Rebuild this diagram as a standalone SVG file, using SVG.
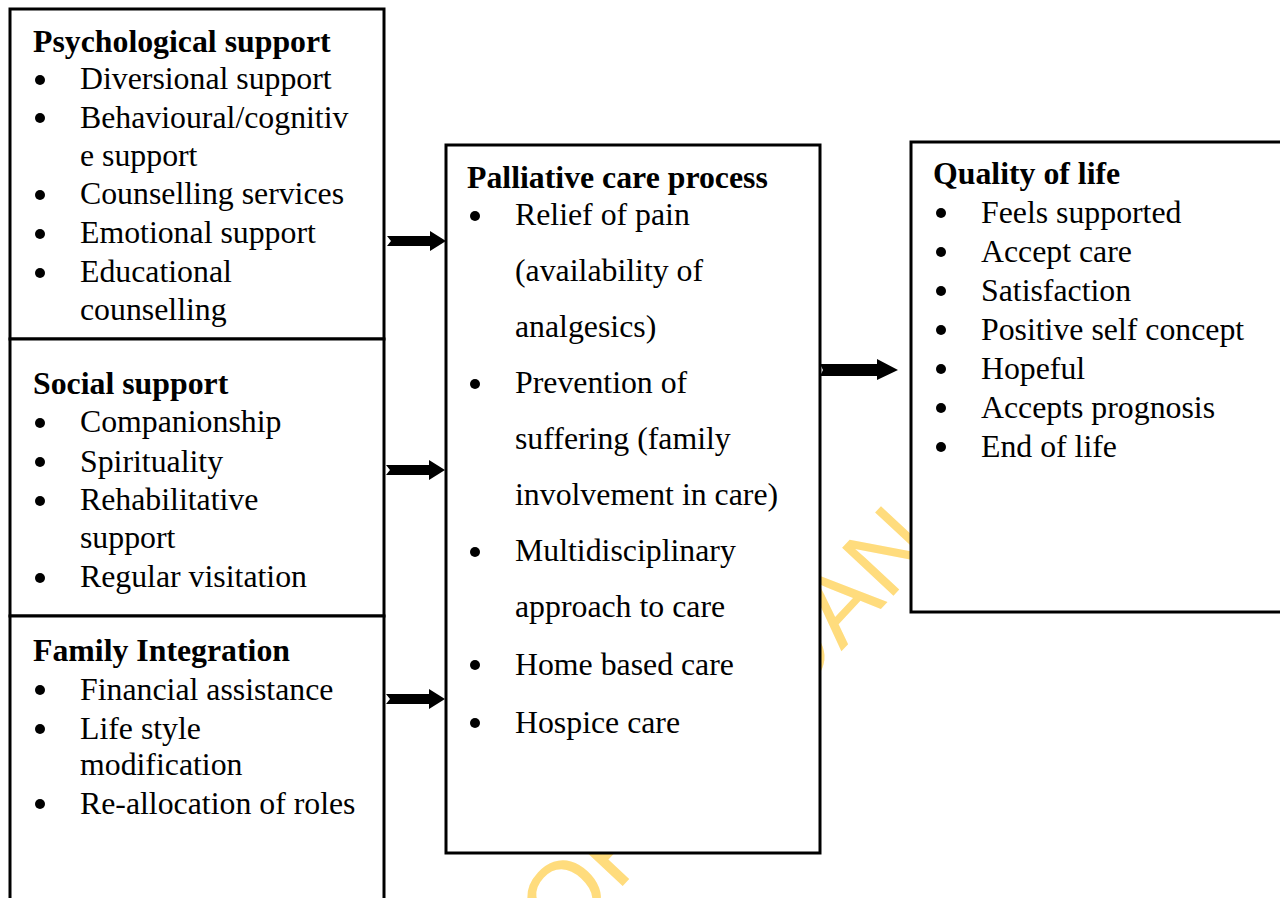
<svg xmlns="http://www.w3.org/2000/svg" width="1280" height="898" viewBox="0 0 1280 898">
<style>
.box{fill:#fff;stroke:#000;stroke-width:3}
.t{font-family:"Liberation Serif","Times New Roman",serif;font-size:31.8px;fill:#000}
.h{font-weight:bold}
.b{fill:#000}
.wm{font-family:"Liberation Sans",Arial,sans-serif;font-size:102px;fill:#FFDC7D}
.arr{fill:#000}
</style>
<defs>
<path id="arrL" d="M0,-5 L43,-5 L43,-10 L59,0 L43,10 L43,5 L0,5 L4,0 Z"/>
<path id="arrR" d="M0,-6 L57,-6 L57,-11 L78,0 L57,10 L57,6 L0,6 L3,0 Z"/>
</defs>
<rect width="1280" height="898" fill="#fff"/>
<text class="wm" transform="translate(563,950) rotate(-47)">OF IBADAN</text>

<g id="psychological">
<rect class="box" x="10" y="9" width="374" height="330"/>
<text class="t h" x="33" y="52">Psychological support</text>
<circle class="b" cx="40" cy="80" r="5"/><text class="t" x="80" y="89">Diversional support</text>
<circle class="b" cx="40" cy="118" r="5"/><text class="t" x="80" y="128">Behavioural/cognitiv</text>
<text class="t" x="80" y="166">e support</text>
<circle class="b" cx="40" cy="195" r="5"/><text class="t" x="80" y="204">Counselling services</text>
<circle class="b" cx="40" cy="234" r="5"/><text class="t" x="80" y="243">Emotional support</text>
<circle class="b" cx="40" cy="273" r="5"/><text class="t" x="80" y="282">Educational</text>
<text class="t" x="80" y="320">counselling</text>
</g>

<g id="social">
<rect class="box" x="10" y="339" width="374" height="277"/>
<text class="t h" x="33" y="394">Social support</text>
<circle class="b" cx="40" cy="423" r="5"/><text class="t" x="80" y="432">Companionship</text>
<circle class="b" cx="40" cy="462" r="5"/><text class="t" x="80" y="472">Spirituality</text>
<circle class="b" cx="40" cy="501" r="5"/><text class="t" x="80" y="510">Rehabilitative</text>
<text class="t" x="80" y="548">support</text>
<circle class="b" cx="40" cy="578" r="5"/><text class="t" x="80" y="587">Regular visitation</text>
</g>

<g id="family">
<rect class="box" x="10" y="616" width="374" height="300"/>
<text class="t h" x="33" y="661">Family Integration</text>
<circle class="b" cx="40" cy="690" r="5"/><text class="t" x="80" y="700">Financial assistance</text>
<circle class="b" cx="40" cy="729" r="5"/><text class="t" x="80" y="739">Life style</text>
<text class="t" x="80" y="775">modification</text>
<circle class="b" cx="40" cy="804" r="5"/><text class="t" x="80" y="814">Re-allocation of roles</text>
</g>

<g id="palliative">
<rect class="box" x="446" y="145" width="374" height="708"/>
<text class="t h" x="467" y="188">Palliative care process</text>
<circle class="b" cx="475" cy="216" r="5"/><text class="t" x="515" y="225">Relief of pain</text>
<text class="t" x="515" y="281">(availability of</text>
<text class="t" x="515" y="337">analgesics)</text>
<circle class="b" cx="475" cy="384" r="5"/><text class="t" x="515" y="393">Prevention of</text>
<text class="t" x="515" y="449">suffering (family</text>
<text class="t" x="515" y="505">involvement in care)</text>
<circle class="b" cx="475" cy="552" r="5"/><text class="t" x="515" y="561">Multidisciplinary</text>
<text class="t" x="515" y="617">approach to care</text>
<circle class="b" cx="475" cy="665" r="5"/><text class="t" x="515" y="675">Home based care</text>
<circle class="b" cx="475" cy="723" r="5"/><text class="t" x="515" y="733">Hospice care</text>
</g>

<g id="quality">
<rect class="box" x="911" y="142" width="380" height="470"/>
<text class="t h" x="933" y="184">Quality of life</text>
<circle class="b" cx="941" cy="213" r="5"/><text class="t" x="981" y="223">Feels supported</text>
<circle class="b" cx="941" cy="252" r="5"/><text class="t" x="981" y="262">Accept care</text>
<circle class="b" cx="941" cy="291" r="5"/><text class="t" x="981" y="301">Satisfaction</text>
<circle class="b" cx="941" cy="330" r="5"/><text class="t" x="981" y="340">Positive self concept</text>
<circle class="b" cx="941" cy="369" r="5"/><text class="t" x="981" y="379">Hopeful</text>
<circle class="b" cx="941" cy="408" r="5"/><text class="t" x="981" y="418">Accepts prognosis</text>
<circle class="b" cx="941" cy="447" r="5"/><text class="t" x="981" y="457">End of life</text>
</g>

<g id="connectors">
<use href="#arrL" class="arr" x="387" y="241"/>
<use href="#arrL" class="arr" x="386" y="470"/>
<use href="#arrL" class="arr" x="386" y="699"/>
<use href="#arrR" class="arr" x="820" y="370"/>
</g>
</svg>
